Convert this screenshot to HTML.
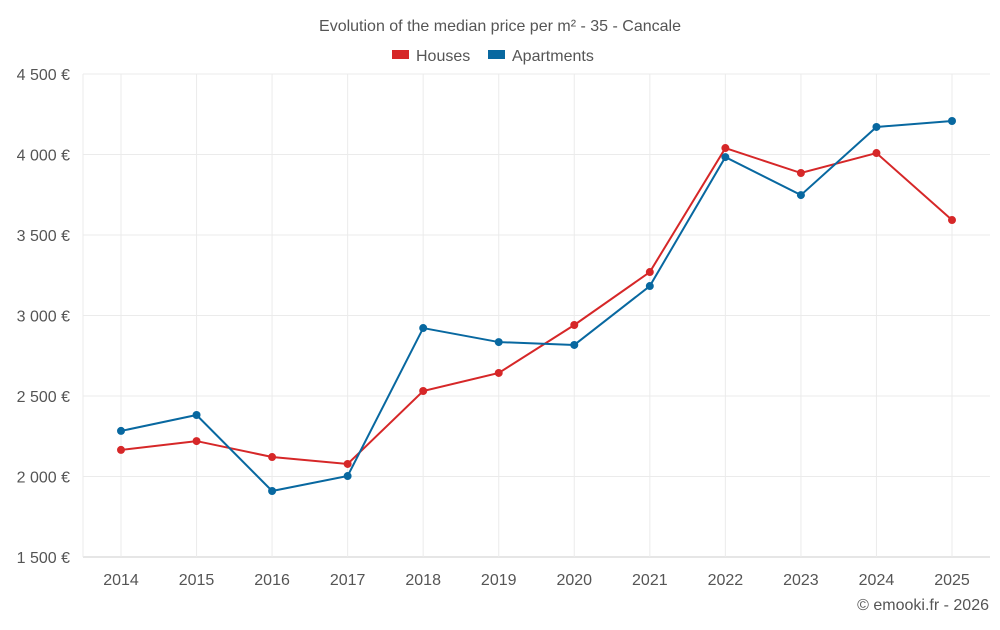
<!DOCTYPE html>
<html><head><meta charset="utf-8"><style>
body{margin:0;background:#fff;font-family:"Liberation Sans",sans-serif;}
svg text{font-family:"Liberation Sans",sans-serif;fill:#555;}
</style></head><body>
<svg id="c" width="1000" height="625">
<text x="500" y="31" text-anchor="middle" font-size="16">Evolution of the median price per m² - 35 - Cancale</text>
<g>
<rect x="392" y="50" width="17" height="9" fill="#d62728"/>
<text x="416" y="61" font-size="16">Houses</text>
<rect x="488" y="50" width="17" height="9" fill="#0868a0"/>
<text x="512" y="61" font-size="16">Apartments</text>
</g>
<g id="grid"></g><g id="series"></g>
<text x="989" y="610" text-anchor="end" font-size="16">© emooki.fr - 2026</text>
</svg>
<script>
const years=[2014,2015,2016,2017,2018,2019,2020,2021,2022,2023,2024,2025];
const houses=[2165,2220,2121,2078,2531,2643,2941,3270,4040,3885,4009,3593];
const apartments=[2283,2382,1910,2003,2922,2835,2817,3183,3984,3748,4171,4208];
const yTicks=[1500,2000,2500,3000,3500,4000,4500];
const yLabels=["1 500 €","2 000 €","2 500 €","3 000 €","3 500 €","4 000 €","4 500 €"];
const NS="http://www.w3.org/2000/svg";
const L=83,R=990,T=74,B=557,ymin=1500,ymax=4500;
const x=i=>121+i*(952-121)/(years.length-1);
const y=v=>B-(v-ymin)/(ymax-ymin)*(B-T);
function mk(t,a,p){const e=document.createElementNS(NS,t);for(const k in a)e.setAttribute(k,a[k]);p.appendChild(e);return e;}
const g=document.getElementById('grid'),s=document.getElementById('series');
yTicks.forEach((v,i)=>{
 const l=mk('line',{x1:L,x2:R,y1:y(v),y2:y(v),stroke:i==0?'#ccc':'#ebebeb'},g);
 
 
 const t=mk('text',{x:70,y:y(v)+6,'text-anchor':'end','font-size':16},g);t.textContent=yLabels[i];
 
 
});
mk('line',{x1:L,x2:L,y1:T,y2:B,stroke:'#ebebeb'},g);
years.forEach((yr,i)=>{
 const l=mk('line',{x1:x(i),x2:x(i),y1:T,y2:B,stroke:'#ebebeb'},g);
 
 
 const t=mk('text',{x:x(i),y:585,'text-anchor':'middle','font-size':16},g);t.textContent=yr;
 
 
});
function draw(data,col,name){
 const p=mk('polyline',{points:data.map((v,i)=>x(i)+','+y(v)).join(' '),fill:'none',stroke:col,'stroke-width':2},s);
 
 
 data.forEach((v,i)=>{const c=mk('circle',{cx:x(i),cy:y(v),r:4,fill:col},s);
  
  });
}
draw(houses,'#d62728','houses');
draw(apartments,'#0868a0','apartments');
</script>
</body></html>
